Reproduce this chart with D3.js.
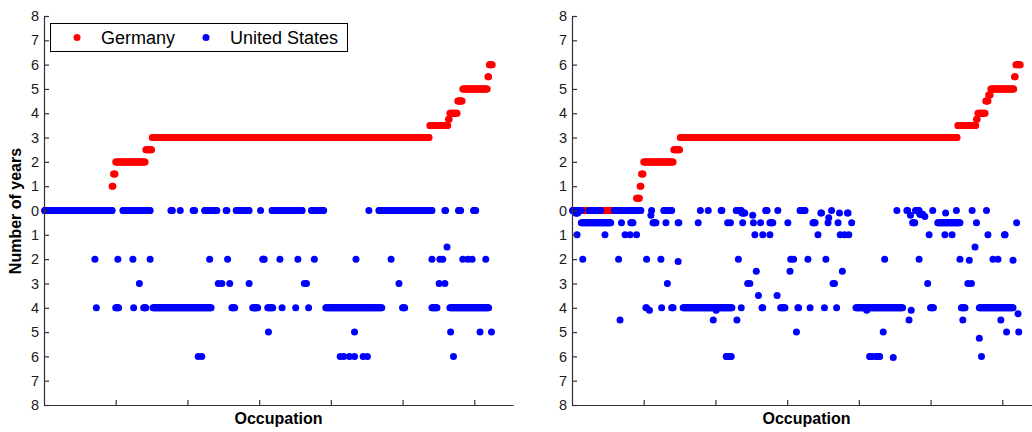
<!DOCTYPE html>
<html>
<head>
<meta charset="utf-8">
<script src="https://cdn.jsdelivr.net/npm/d3@7"></script>
<style>
body{margin:0;background:#fff;}
svg{display:block;font-family:"Liberation Sans",Arial,sans-serif;}
</style>
</head>
<body>
<svg id="chart" width="1032" height="432"></svg>
<script>
// tick values
var yearTicks = [-8,-7,-6,-5,-4,-3,-2,-1,0,1,2,3,4,5,6,7,8];
var occupationTicks = [100,200,300,400,500,600];
var seriesNames = ["Germany", "United States"];

// Germany, occupations sorted by years: [years, number of occupations]
var germanyLeftRuns = [[0,94],[1,2],[1.5,3],[2,42],[2.5,9],[3,387],[3.5,26],[3.75,2],[4,11],[4.5,7],[5,35],[5.5,2],[6,5]];
var germanyRightRuns = [[0,89],[0.5,5],[1,2],[1.5,3],[2,42],[2.5,9],[3,387],[3.5,26],[3.75,2],[4,11],[4.5,4],[4.75,3],[5,33],[5.5,2],[6,7]];

// United States: [years, first occupation rank, last occupation rank]
var usLeftRuns = [
    [0,1,95],[0,110,148],[0,177,179],[0,190],[0,208,210],[0,224,241],[0,254,255],[0,268,286],[0,302],[0,318,360],
    [0,373,390],[0,453],[0,467,541],[0,559,560],[0,578,581],[0,599,602],
    [1.5,562],
    [2,71],[2,103],[2,124],[2,148],[2,231],[2,256],[2,305,307],[2,329],[2,354],[2,377],[2,435],[2,484],[2,541],
    [2,552],[2,556],[2,584],[2,591],[2,597],[2,616],
    [3,133],[3,243],[3,248],[3,259],[3,286],[3,363],[3,366],[3,495],[3,551],[3,559],
    [4,73],[4,100,104],[4,125],[4,139,142],[4,152,233],[4,262,266],[4,291,298],[4,312,319],[4,332],[4,351],[4,369],
    [4,393,471],[4,500,503],[4,541,548],[4,566,620],
    [5,313],[5,433],[5,567],[5,608],[5,624],
    [6,215],[6,220],[6,413],[6,418],[6,426],[6,433],[6,445],[6,451],[6,571]
];
var usRightRuns = [
    [0,1,13],[0.1,5,8],[0,24,40],[0,59,96],[0.2,110],[0,111],[0,128,139],[0,179],[0,190],[0,208,209],[0,229,236],
    [0.1,237,241],[0.2,252],[0,270,272],[0,287],[0,318,325],[0.1,347,348],[0,362],[0.1,373],[0.1,384,385],[0,453],
    [0,467,468],[0.2,472],[0,479,484],[0.15,485,489],[0.25,492],[0,503],[0.1,521],[0,536],[0,558],[0,578],
    [0.5,13,54],[0.5,69],[0.5,82,85],[0.5,113,117],[0.5,131],[0.5,148,149],[0.5,176],[0.5,217],[0.5,221],[0.5,238],
    [0.5,253],[0.5,263],[0.5,276,280],[0.5,301],[0.5,336,339],[0.5,357],[0.3,358],[0.5,371],[0.5,390],[0.5,475,478],
    [0.5,510,541],[0.5,564],[0.5,620],
    [1,7],[1,46],[1,74],[1,81],[1,90],[1,255],[1,266],[1,276],[1,343],[1,374],[1,380],[1,386],[1,498],[1,520],
    [1,530],[1,580],[1,603,604],
    [1.5,562],
    [2,15],[2,65],[2,104],[2,124],[2.1,148],[2,232],[2,305],[2,309],[2,329],[2,354],[2,436],[2,484],[2,541],
    [2.05,554],[2,587],[2,594],[2.05,615],
    [2.5,257],[2.5,304],[2.5,377],
    [3,133],[3,245],[3,248],[3,364],[3,366],[3,496],[3,552],[3,557],
    [3.5,260],[3.5,286],
    [4,103,104],[4.1,108],[4,125],[4,139,141],[4,155,223],[4.1,201],[4,236],[4,265,266],[4,291,297],[4,315,316],
    [4,332],[4,352],[4,369],[4,396,461],[4.1,411],[4.1,473],[4,500,504],[4,543,548],[4,568,615],[4.25,622],
    [4.5,67],[4.5,197],[4.5,230],[4.5,470],[4.5,545],[4.5,598],
    [5,313],[5,434],[5,606],[5,623],[5.25,568],
    [6,215,222],[6,415,418],[6,424,429],[6.05,448],[6,571]
];

var RED = "#ff0000", BLUE = "#0000ff", AXIS = "#333333";
var DotR = 3.5;

// germany runs -> one point per occupation rank
function germanyPoints(runs){
    var out = [], rank = 1;
    runs.forEach(function(r){
        for (var k = 0; k < r[1]; k++) out.push({rank: rank++, years: r[0]});
    });
    return out;
}
// US years are drawn below zero
function usPoints(runs){
    var out = [];
    runs.forEach(function(r){
        var last = r.length > 2 ? r[2] : r[1];
        for (var k = r[1]; k <= last; k++) out.push({rank: k, years: -r[0]});
    });
    return out;
}

var svg = d3.select("#chart");

var y = d3.scaleLinear().domain([-8, 8]).range([405, 16]);

function Panel(left, germanyRuns, usRuns){
    var x = d3.scaleLinear().domain([0, 654]).range([left, left + 469]);
    var g = svg.append("g");

    g.append("g").selectAll("circle")
        .data(germanyPoints(germanyRuns))
        .enter().append("circle")
        .attr("cx", function(d){ return x(d.rank); })
        .attr("cy", function(d){ return y(d.years); })
        .attr("r", DotR)
        .style("fill", RED);

    g.append("g").selectAll("circle")
        .data(usPoints(usRuns))
        .enter().append("circle")
        .attr("cx", function(d){ return x(d.rank); })
        .attr("cy", function(d){ return y(d.years); })
        .attr("r", DotR)
        .style("fill", BLUE);

    var yAxis = g.append("g")
        .attr("transform", "translate(" + left + ",0)")
        .call(d3.axisLeft(y).tickValues(yearTicks)
            .tickSizeInner(-5).tickSizeOuter(0).tickPadding(5)
            .tickFormat(function(d){ return Math.abs(d); }));

    var xAxis = g.append("g")
        .attr("transform", "translate(0," + y(-8) + ")")
        .call(d3.axisBottom(x).tickValues(occupationTicks)
            .tickSizeInner(-5).tickSizeOuter(0).tickFormat(""));

    g.selectAll(".domain, .tick line").style("stroke", AXIS).style("stroke-width", 1.2);
    yAxis.selectAll("text")
        .style("font-size", "14.5px")
        .style("fill", "#1a1a1a")
        .style("font-family", "'Liberation Sans', Arial, sans-serif");

    g.append("text")
        .attr("x", left + 469 / 2)
        .attr("y", 424)
        .attr("text-anchor", "middle")
        .style("font-size", "16px")
        .style("font-weight", "bold")
        .text("Occupation");
    return g;
}

Panel(44, germanyLeftRuns, usLeftRuns);
Panel(572, germanyRightRuns, usRightRuns);

svg.append("text")
    .attr("transform", "translate(21,211) rotate(-90)")
    .attr("text-anchor", "middle")
    .style("font-size", "16px")
    .style("font-weight", "bold")
    .text("Number of years");

// legend
var legend = svg.append("g");
legend.append("rect")
    .attr("x", 50.5).attr("y", 23.5)
    .attr("width", 297).attr("height", 28)
    .style("fill", "#fff").style("stroke", "#000").style("stroke-width", 1);

var legendX = [77, 206];
var legendColors = [RED, BLUE];
seriesNames.forEach(function(name, i){
    legend.append("circle")
        .attr("cx", legendX[i]).attr("cy", 37.5)
        .attr("r", DotR)
        .style("fill", legendColors[i]);
    legend.append("text")
        .attr("x", legendX[i] + 24).attr("y", 44)
        .style("font-size", "18px")
        .style("fill", "#000")
        .text(name);
});
</script>
</body>
</html>
